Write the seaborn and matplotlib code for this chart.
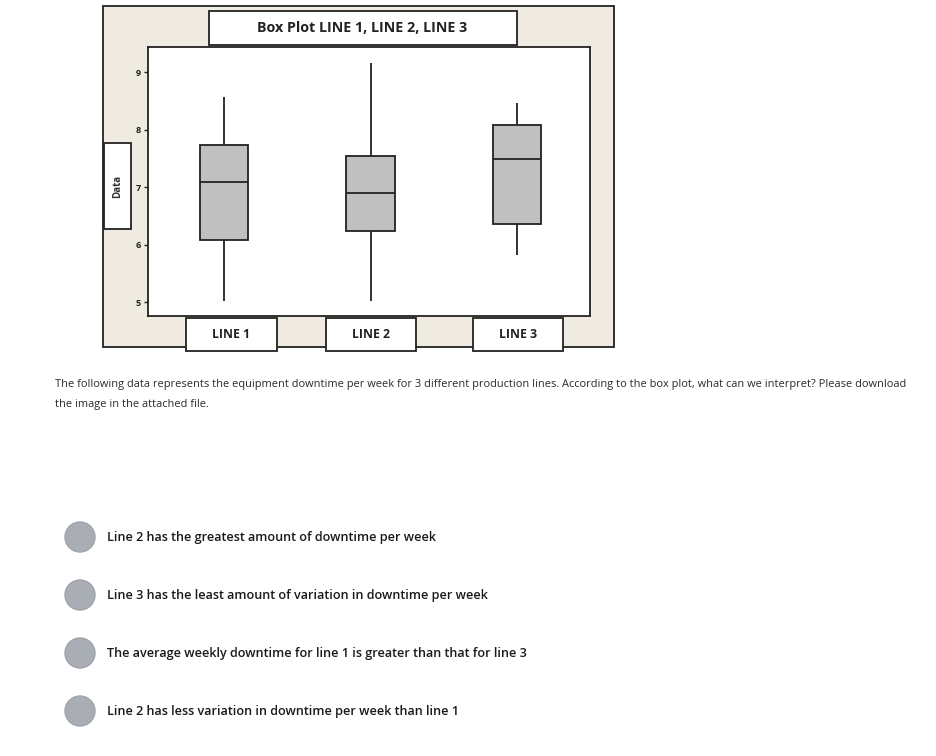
import matplotlib
matplotlib.use("Agg")
import matplotlib.pyplot as plt
from matplotlib.patches import Rectangle, Ellipse
import pandas as pd
import seaborn as sns

# ---- data (min, Q1, median, Q3, max) ----
lines = ["LINE 1", "LINE 2", "LINE 3"]
line1 = [5.02, 6.07, 7.09, 7.73, 8.57]
line2 = [5.02, 6.24, 6.90, 7.54, 9.16]
line3 = [5.82, 6.36, 7.49, 8.08, 8.46]
yticks = [5, 6, 7, 8, 9]
title = "Box Plot LINE 1, LINE 2, LINE 3"
ylabel = "Data"
question = ("The following data represents the equipment downtime per week for 3 different production lines. "
            "According to the box plot, what can we interpret? Please download")
question2 = "the image in the attached file."
options = [
    "Line 2 has the greatest amount of downtime per week",
    "Line 3 has the least amount of variation in downtime per week",
    "The average weekly downtime for line 1 is greater than that for line 3",
    "Line 2 has less variation in downtime per week than line 1",
]

df = pd.DataFrame({
    "line": [lines[0]] * len(line1) + [lines[1]] * len(line2) + [lines[2]] * len(line3),
    "value": line1 + line2 + line3,
})

W, H = 936, 756
fig = plt.figure(figsize=(W / 100, H / 100), dpi=100)
fig.patch.set_facecolor("white")
FAM = ["Open Sans", "DejaVu Sans"]

def fx(px):
    return px / W

def fy(py):
    return 1 - py / H

def frect(x0, y0, x1, y1, fc, ec="#222222", lw=1.3, z=0):
    r = Rectangle((fx(x0), fy(y1)), fx(x1) - fx(x0), fy(y0) - fy(y1),
                  transform=fig.transFigure, facecolor=fc, edgecolor=ec, linewidth=lw, zorder=z)
    fig.add_artist(r)

# beige outer frame
frect(103, 6, 614, 347, "#F0EBE1", z=0)

ax = fig.add_axes([fx(148), fy(316), fx(590) - fx(148), fy(47) - fy(316)])
ax.set_zorder(2)
ax.set_facecolor("white")
sns.boxplot(data=df, x="line", y="value", ax=ax, color="#C0C0C0", width=0.33,
            linecolor="#222222", linewidth=1.3, whis=(0, 100), saturation=1,
            showfliers=False, showcaps=False)
ax.set_xlim(-0.519, 2.498)
ax.set_ylim(4.757, 9.435)
ax.set_yticks(yticks)
ax.set_yticklabels([str(t) for t in yticks], fontsize=6.5, fontweight="bold",
                   family=FAM, color="#222222")
ax.tick_params(axis="y", length=3, width=1, pad=2, color="#222222")
ax.set_xticks([])
ax.set_xlabel("")
ax.set_ylabel("")
for s in ax.spines.values():
    s.set_color("#222222")
    s.set_linewidth(1.3)

# title box
frect(209, 11, 517, 45, "white", z=3)
fig.text(fx(362), fy(28), title, ha="center", va="center", fontsize=10.3,
         fontweight="bold", family=FAM, color="#222222", zorder=4)

# y label box
frect(104, 143, 131, 229, "white", z=3)
fig.text(fx(118), fy(186), ylabel, ha="center", va="center", fontsize=7,
         fontweight="bold", rotation=90, family=FAM, color="#333333", zorder=4)

# category label boxes
cat_boxes = [(186, 277), (326, 416), (473, 563)]
for (x0, x1), lab in zip(cat_boxes, lines):
    frect(x0, 318, x1, 351, "white", z=3)
    fig.text(fx((x0 + x1) / 2), fy(334), lab, ha="center", va="center", fontsize=8.8,
             fontweight="bold", family=FAM, color="#222222", zorder=4)

# question text
fig.text(fx(55), fy(384), question, ha="left", va="center", fontsize=7.93,
         family=FAM, color="#2a2a2a")
fig.text(fx(55), fy(405), question2, ha="left", va="center", fontsize=7.93,
         family=FAM, color="#2a2a2a")

# options with radio circles
opt_y = [537, 595, 653, 711]
for yy, txt in zip(opt_y, options):
    e = Ellipse((fx(80), fy(yy)), 30 / W, 30 / H, transform=fig.transFigure,
                facecolor="#A9ADB4", edgecolor="#9FA3AA", linewidth=1)
    fig.add_artist(e)
    fig.text(fx(107), fy(yy), txt, ha="left", va="center", fontsize=9.1,
             fontweight="semibold", family=FAM, color="#1a1a1a")

fig.savefig("out.png", dpi=100, facecolor="white")
